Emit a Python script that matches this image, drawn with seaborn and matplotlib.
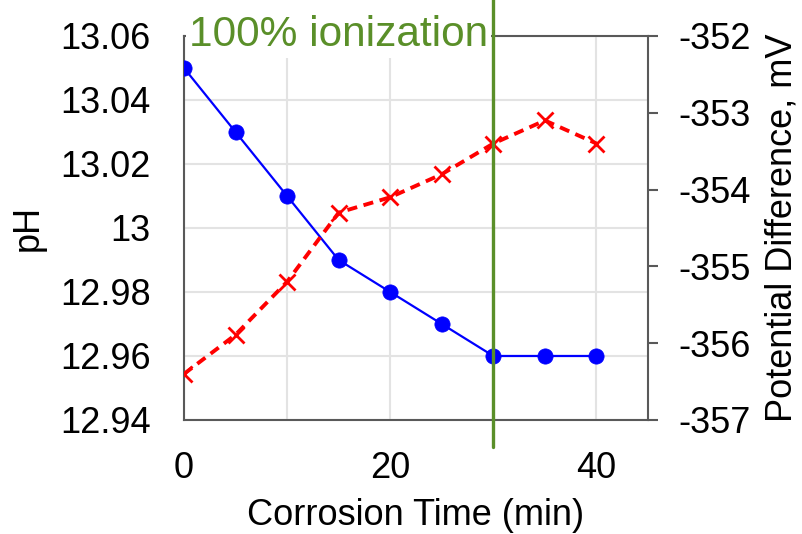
import matplotlib
matplotlib.use("Agg")
import matplotlib.pyplot as plt
import seaborn as sns
import pandas as pd

# data
time_min = [0, 5, 10, 15, 20, 25, 30, 35, 40]
ph_values = [13.05, 13.03, 13.01, 12.99, 12.98, 12.97, 12.96, 12.96, 12.96]
potential_mv = [-356.40, -355.89, -355.20, -354.30, -354.10, -353.80, -353.40, -353.10, -353.40]
ionization_time = 30
ionization_label = "100% ionization"
ph_ticks = [12.94, 12.96, 12.98, 13.00, 13.02, 13.04, 13.06]
ph_tick_labels = ["12.94", "12.96", "12.98", "13", "13.02", "13.04", "13.06"]
mv_ticks = [-357, -356, -355, -354, -353, -352]
x_ticks = [0, 10, 20, 30, 40]
x_tick_labels = ["0", "", "20", "", "40"]

df = pd.DataFrame({"time": time_min, "pH": ph_values, "mV": potential_mv})

sns.set_theme(style="whitegrid")
plt.rcParams["font.family"] = ["Liberation Sans", "DejaVu Sans"]

spine_col = "#595959"
green = "#5a8f29"

fig = plt.figure(figsize=(8.02, 5.34), dpi=100)
ax = fig.add_axes([0.2294, 0.2135, 0.5786, 0.7191])
ax2 = ax.twinx()

# pH series (left axis)
sns.lineplot(data=df, x="time", y="pH", ax=ax, color="#0000ff", marker="o",
             markersize=11, markeredgecolor="#0000ff", markeredgewidth=0.5,
             linewidth=1.6, zorder=4)

# potential difference series (right axis)
sns.lineplot(data=df, x="time", y="mV", ax=ax2, color="#ff0000", marker="x",
             markersize=11, markeredgecolor="#ff0000", markeredgewidth=2,
             linewidth=2.8, zorder=4)
ax2.lines[0].set_linestyle((0, (2.6, 1.7)))

ax.set_xlim(0, 45)
ax.set_ylim(12.94, 13.06)
ax2.set_ylim(-357, -352)

ax.set_xticks(x_ticks)
ax.set_xticklabels(x_tick_labels)
ax.set_yticks(ph_ticks)
ax.set_yticklabels(ph_tick_labels)
ax2.set_yticks(mv_ticks)
ax2.set_yticklabels([str(v) for v in mv_ticks])

ax.grid(True, color="#e3e3e3", linewidth=1.5)
ax2.grid(False)

ax.tick_params(axis="both", labelsize=26, length=0, colors="black")
ax.tick_params(axis="y", pad=24)
ax.tick_params(axis="x", pad=22)
ax2.tick_params(axis="y", labelsize=26, length=7, width=1.5, color=spine_col,
                direction="out", pad=15, labelcolor="black")

ax.set_xlabel("Corrosion Time (min)", fontsize=26, color="black", labelpad=9)
ax.set_ylabel("pH", fontsize=26, color="black", labelpad=10)
ax2.set_ylabel("Potential Difference, mV", fontsize=26, color="black", labelpad=10)

for name, sp in ax.spines.items():
    sp.set_color(spine_col)
    sp.set_linewidth(1.5)
    sp.set_visible(name in ("left", "bottom", "top"))
for name, sp in ax2.spines.items():
    sp.set_color(spine_col)
    sp.set_linewidth(1.5)
    sp.set_visible(name == "right")

# 100% ionization marker
ax2.axvline(ionization_time, ymin=-0.07, ymax=1.1, color=green, linewidth=2.4,
            clip_on=False, zorder=6)
ax2.text(ionization_time - 0.5, 1.003, ionization_label, transform=ax2.get_xaxis_transform(),
         ha="right", va="center", fontsize=30.5, color=green, zorder=5,
         bbox=dict(facecolor="white", edgecolor="none", pad=2))

fig.savefig("out.png", dpi=100)
